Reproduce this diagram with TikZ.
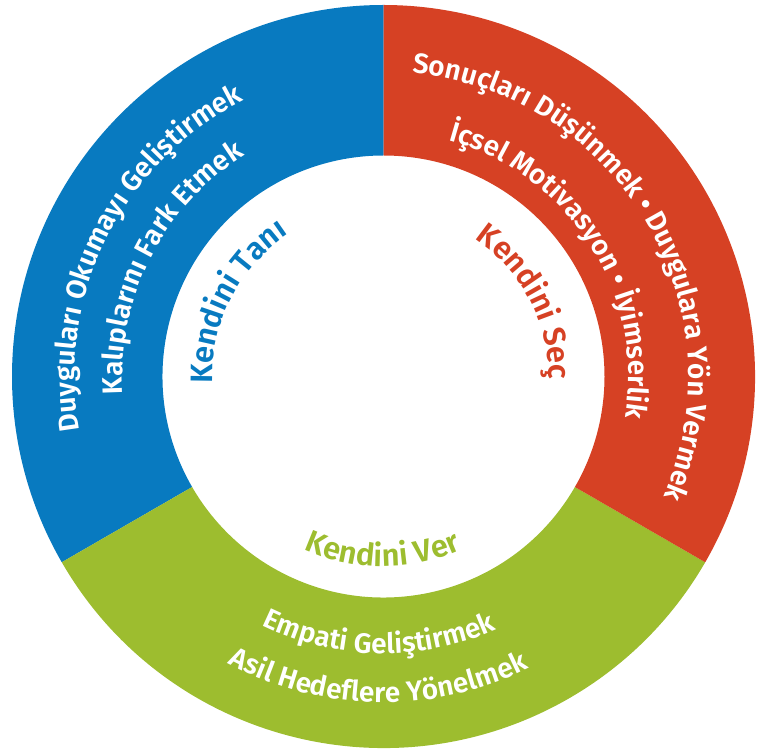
\documentclass[tikz,border=0pt]{standalone}
\usepackage{fontspec}
\setmainfont{Fira Sans}[BoldFont={Fira Sans SemiBold}]
\usetikzlibrary{decorations.text}

\definecolor{azul}{RGB}{8,122,192}
\definecolor{vermelho}{RGB}{214,65,36}
\definecolor{verde}{RGB}{157,189,47}

\newcommand{\fonteanel}{\bfseries\fontsize{28}{28}\selectfont}
\newcommand{\fonterotulo}{\bfseries\fontsize{31}{31}\selectfont}

\tikzset{
  texto/.style={decorate, decoration={text along path, text align=center, text color=#1}},
}

\begin{document}
\begin{tikzpicture}[x=1pt,y=1pt] %Desenho em pontos
  \useasboundingbox (0,0) rectangle (758,753);
  \begin{scope}[shift={(383.5,376.5)}] %Centro do anel
    %Fatias
    \fill[azul] (90:371.5) arc[start angle=90, end angle=210, radius=371.5] -- (210:221) arc[start angle=210, end angle=90, radius=221] -- cycle;
    \fill[verde] (210:371.5) arc[start angle=210, end angle=330, radius=371.5] -- (330:221) arc[start angle=330, end angle=210, radius=221] -- cycle;
    \fill[vermelho] (330:371.5) arc[start angle=330, end angle=450, radius=371.5] -- (90:221) arc[start angle=90, end angle=-30, radius=221] -- cycle;
    %Textos azuis
    \path[texto=white, decoration={text={|\fonteanel|Duyguları Okumayı Geliştirmek}}] (213.4:309) arc[start angle=213.4, end angle=93.4, radius=309];
    \path[texto=white, decoration={text={|\fonteanel|Kalıplarını Fark Etmek}}] (213:261) arc[start angle=213, end angle=93, radius=261];
    \path[texto=azul, decoration={text={|\fonterotulo|Kendini Tanı}}] (213:171) arc[start angle=213, end angle=93, radius=171];
    %Textos vermelhos
    \path[texto=white, decoration={text={|\fonteanel|Sonuçları Düşünmek • Duygulara Yön Vermek}}] (105.7:305) arc[start angle=105.7, end angle=-44.3, radius=305];
    \path[texto=white, decoration={text={|\fonteanel|İçsel Motivasyon • İyimserlik}}] (92.5:245) arc[start angle=92.5, end angle=-27.5, radius=245];
    \path[texto=vermelho, decoration={text={|\fonterotulo|Kendini Seç}}] (87.8:165) arc[start angle=87.8, end angle=-32.2, radius=165];
    %Textos verdes
    \path[texto=white, decoration={text={|\fonteanel|Empati Geliştirmek}}] (209:277) arc[start angle=209, end angle=329, radius=277];
    \path[texto=white, decoration={text={|\fonteanel|Asil Hedeflere Yönelmek}}] (209:326) arc[start angle=209, end angle=329, radius=326];
    \path[texto=verde, decoration={text={|\fonterotulo|Kendini Ver}}] (209.7:190) arc[start angle=209.7, end angle=329.7, radius=190];
  \end{scope}
\end{tikzpicture}
\end{document}
